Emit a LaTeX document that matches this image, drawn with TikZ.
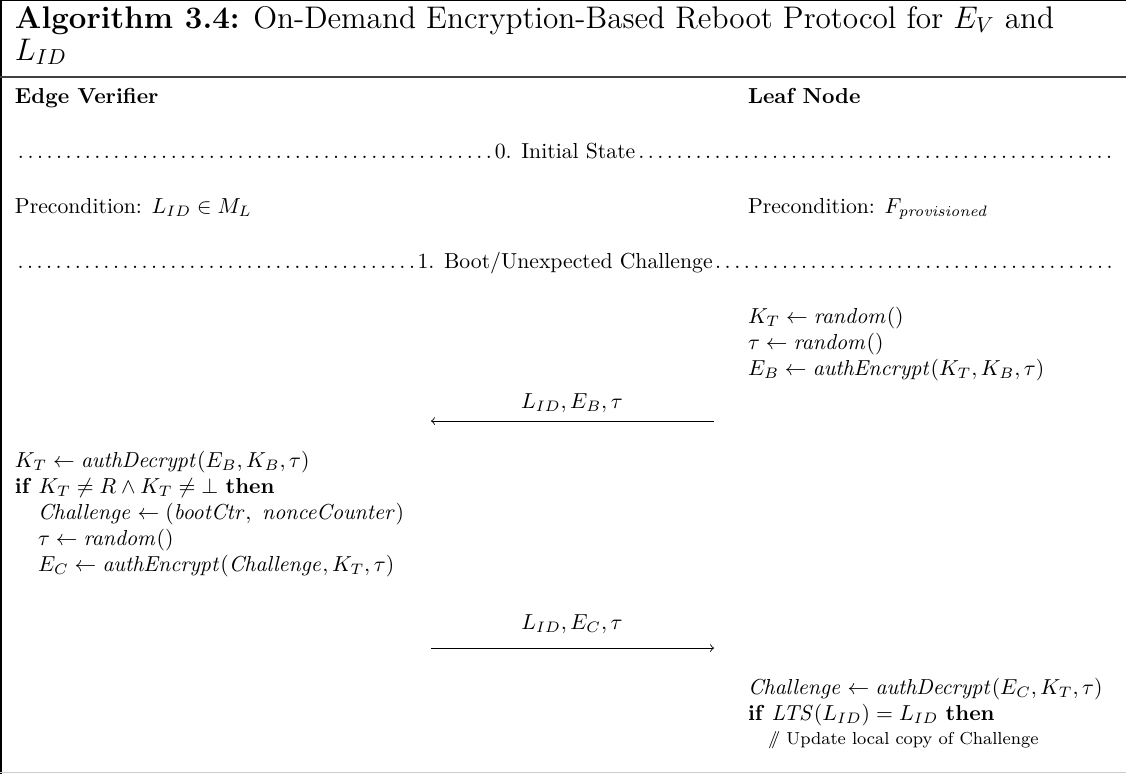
\documentclass[tikz,border=0pt]{standalone}
\usepackage{amsmath,amssymb}
\begin{document}
\begin{tikzpicture}[x=0.4608pt, y=-0.4608pt,
  txt/.style={anchor=base west, inner sep=0pt, outer sep=0pt},
  hdr/.style={txt, font=\bfseries},
  lbl/.style={anchor=base, inner sep=0pt},
  msg/.style={draw, line width=0.4pt, -to}]
\useasboundingbox (0,0) rectangle (1126,774);

% frame of the algorithm float
\draw[line width=0.5pt] (0,0.6) -- (1126,0.6);
\draw[line width=0.9pt] (0.9,0) -- (0.9,774);
\draw[line width=0.5pt, black!75] (0,77) -- (1126,77);
\draw[line width=0.5pt, black!20] (0,772.8) -- (1126,772.8);

% caption
\node[txt, font=\Large] (title1) at (15,28)
  {\textbf{Algorithm 3.4:} On-Demand Encryption-Based Reboot Protocol for $E_V$ and};
\node[txt, font=\Large] (title2) at (15,60) {$L_{ID}$};

% column headers
\node[hdr] (ev) at (15,103) {Edge Verifier};
\node[hdr] (ln) at (748,103) {Leaf Node};

% phase 0
\node[txt] (ph0) at (15,158) {\makebox[507pt]{\dotfill0. Initial State\dotfill}};
\node[txt] (preE) at (15,213) {Precondition: $L_{ID} \in M_L$};
\node[txt] (preL) at (748,213) {Precondition: $F_{\mathit{provisioned}}$};

% phase 1
\node[txt] (ph1) at (15,268) {\makebox[507pt]{\dotfill1. Boot/Unexpected Challenge\dotfill}};

% leaf node: create temporary key
\node[txt] (l1) at (748,323) {$K_T \leftarrow \mathit{random}()$};
\node[txt] (l2) at (748,349) {$\tau \leftarrow \mathit{random}()$};
\node[txt] (l3) at (748,375) {$E_B \leftarrow \mathit{authEncrypt}(K_T, K_B, \tau)$};

% message leaf -> verifier
\coordinate (m1r) at (714,421);
\coordinate (m1l) at (431,421);
\node[lbl] (m1lab) at (572,408) {$L_{ID}, E_B, \tau$};
\draw[msg] (m1r) -- (m1l);

% edge verifier: build challenge
\node[txt] (e1) at (15,467) {$K_T \leftarrow \mathit{authDecrypt}(E_B, K_B, \tau)$};
\node[txt] (e2) at (15,493) {\textbf{if} $K_T \neq R \land K_T \neq \bot$ \textbf{then}};
\node[txt] (e3) at (38,519) {$\mathit{Challenge} \leftarrow (\mathit{bootCtr},\ \mathit{nonceCounter})$};
\node[txt] (e4) at (38,545) {$\tau \leftarrow \mathit{random}()$};
\node[txt] (e5) at (38,571) {$E_C \leftarrow \mathit{authEncrypt}(\mathit{Challenge}, K_T, \tau)$};

% message verifier -> leaf
\coordinate (m2l) at (431,648);
\coordinate (m2r) at (714,648);
\node[lbl] (m2lab) at (572,629) {$L_{ID}, E_C, \tau$};
\draw[msg] (m2l) -- (m2r);

% leaf node: accept challenge
\node[txt] (l4) at (748,694) {$\mathit{Challenge} \leftarrow \mathit{authDecrypt}(E_C, K_T, \tau)$};
\node[txt] (l5) at (748,720) {\textbf{if} $\mathit{LTS}(L_{ID}) = L_{ID}$ \textbf{then}};
\node[txt, font=\footnotesize] (l6) at (768,744) {$/\!\!/$ Update local copy of Challenge};
\end{tikzpicture}
\end{document}
